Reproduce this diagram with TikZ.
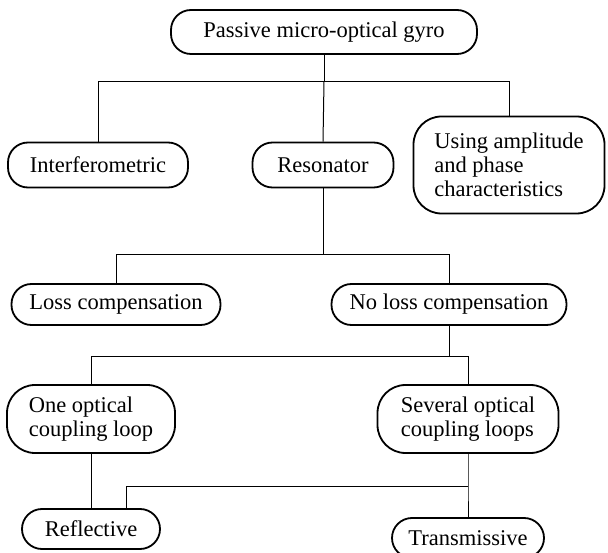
\documentclass[tikz,border=0pt]{standalone}
\usepackage{fontspec}
\setmainfont{Liberation Serif}
\tikzset{
  box/.style={draw, line width=1.8pt, rounded corners=20pt, inner sep=0pt,
              font=\fontsize{22.5}{24}\selectfont},
  tall box/.style={box, rounded corners=28pt, align=left},
  link/.style={line width=1pt}
}
\begin{document}
\begin{tikzpicture}[x=1pt,y=-1pt]
\useasboundingbox (0,0) rectangle (608,553);

\node[box, minimum width=306pt, minimum height=44pt] (gyro) at (324,32) {Passive micro-optical gyro};

\node[box, minimum width=180pt, minimum height=45pt] (interf) at (98,165) {Interferometric};
\node[box, minimum width=141pt, minimum height=45pt] (reson) at (323,165) {Resonator};
\node[tall box, minimum width=191pt, minimum height=97pt] (using) at (509,165)
     {Using amplitude\\and phase\\characteristics};

\node[box, minimum width=209pt, minimum height=41pt] (loss) at (116,304.5) {Loss compensation};
\node[box, minimum width=235pt, minimum height=41pt] (noloss) at (449,304.5) {No loss compensation};

\node[tall box, minimum width=168pt, minimum height=68pt] (one) at (91,419)
     {One optical\\coupling loop};
\node[tall box, minimum width=181pt, minimum height=68pt] (several) at (468,419)
     {Several optical\\coupling loops};

\node[box, minimum width=138pt, minimum height=40pt] (refl) at (91,529) {Reflective};
\node[box, minimum width=152pt, minimum height=40pt] (trans) at (468,538) {Transmissive};

% the branches
\draw[link] (gyro.south) -- ++(0,26.7) coordinate (bus1);
\draw[link] (interf.north) |- (bus1) -| (using.north);
\draw[link] (bus1) -- (reson.north);

\draw[link] (reson.south) -- ++(0,66.3) coordinate (bus2);
\draw[link] (loss.north) |- (bus2) -| (noloss.north);

\draw[link] (noloss.south) -- ++(0,31) coordinate (bus3);
\draw[link] (one.north) |- (bus3) -| (several.north);

\draw[link] (one.south) -- (refl.north);
\draw[link] (several.south) -- ++(0,32.3) coordinate (bus4) -- (trans.north);
\draw[link] (bus4) -| ([xshift=35pt]refl.north);
\end{tikzpicture}
\end{document}
